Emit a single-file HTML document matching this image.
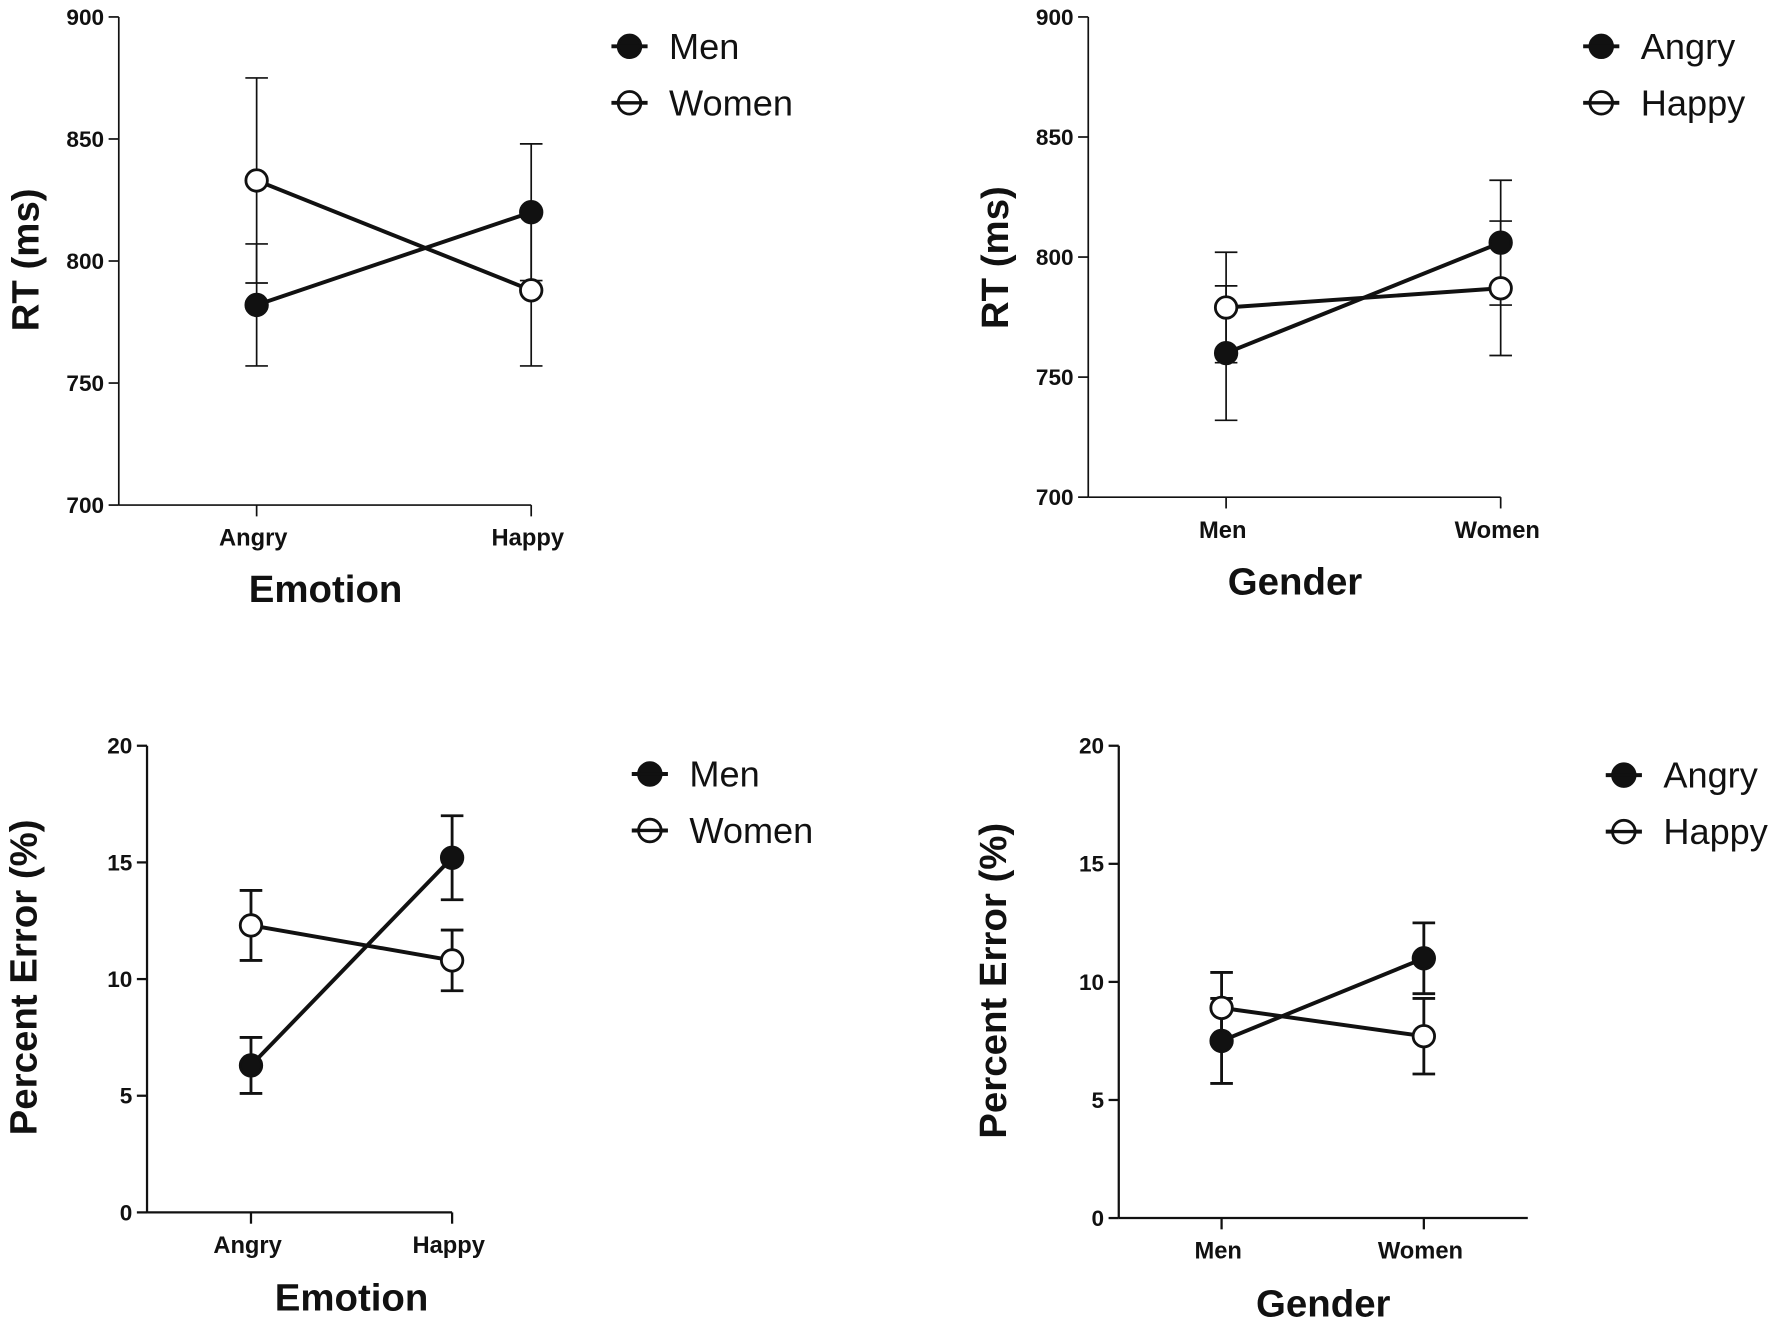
<!DOCTYPE html>
<html><head><meta charset="utf-8"><style>
html,body{margin:0;padding:0;background:#fff;}
svg{display:block;}
text{font-family:"Liberation Sans Narrow","Liberation Sans",sans-serif;font-weight:bold;fill:#111;}
.leg{font-family:"Liberation Sans Narrow","Liberation Sans",sans-serif;font-weight:normal;}
.title{font-family:"Liberation Sans",sans-serif;font-weight:bold;}
</style></head><body>
<svg id="fig" width="1772" height="1322" viewBox="0 0 1568 1170" xmlns="http://www.w3.org/2000/svg"></svg>
<script>
// Panel A: RT by Emotion
const catsA = ["Angry","Happy"];
const seriesA = ["Men","Women"];
const menRT = [782, 820];
const menRTErr = [25, 28];
const womenRT = [833, 788];
const womenRTErr = [42, 31];
const ticksRT = [700, 750, 800, 850, 900];
// Panel B: RT by Gender
const catsB = ["Men","Women"];
const seriesB = ["Angry","Happy"];
const angryRT = [760, 806];
const angryRTErr = [28, 26];
const happyRT = [779, 787];
const happyRTErr = [23, 28];
// Panel C: Percent error by Emotion
const menPE = [6.3, 15.2];
const menPEErr = [1.2, 1.8];
const womenPE = [12.3, 10.8];
const womenPEErr = [1.5, 1.3];
const ticksPE = [0, 5, 10, 15, 20];
// Panel D: Percent error by Gender
const angryPE = [7.5, 11.0];
const angryPEErr = [1.8, 1.5];
const happyPE = [8.9, 7.7];
const happyPEErr = [1.5, 1.6];

const NS = "http://www.w3.org/2000/svg";
const svg = document.getElementById('fig');
function el(tag, attrs, parent, txt){
  const e = document.createElementNS(NS, tag);
  for (const k in attrs) e.setAttribute(k, attrs[k]);
  if (txt !== undefined) e.textContent = txt;
  (parent || svg).appendChild(e);
  return e;
}

function panel(p){
  const g = el('g', {});
  
  
  const y = v => p.y0 + (v - p.ticks[0]) / (p.ticks[p.ticks.length-1] - p.ticks[0]) * (p.y1 - p.y0);
  const x = i => p.xs[i];
  // axes
  const ax = el('line', {x1:p.ax, y1:p.y1, x2:p.ax, y2:p.y0, stroke:'#111','stroke-width':p.aw}, g);
  
  
  const bx = el('line', {x1:p.ax, y1:p.y0, x2:p.xe, y2:p.y0, stroke:'#111','stroke-width':p.aw}, g);
  
  
  p.ticks.forEach(t => {
    el('line', {x1:p.ax-9, y1:y(t), x2:p.ax, y2:y(t), stroke:'#111','stroke-width':p.aw}, g);
    const tl = el('text', {x:p.ax-13, y:y(t)+7, 'text-anchor':'end','font-size':20}, g, String(t));
    
    
  });
  p.cats.forEach((c,i) => {
    el('line', {x1:x(i), y1:p.y0, x2:x(i), y2:p.y0+10, stroke:'#111','stroke-width':p.aw}, g);
    const cl = el('text', {x:x(i)-3, y:p.y0+36, 'text-anchor':'middle','font-size':21}, g, c);
    
    
  });
  const xt = el('text', {x:p.xtx, y:p.xty, 'text-anchor':'middle','font-size':34,'class':'title'}, g, p.xtitle);
  
  
  const yt = el('text', {x:0, y:0, 'text-anchor':'middle','font-size':34,'class':'title',transform:`translate(${p.ytx},${p.yty}) rotate(-90)`}, g, p.ytitle);
  
  
  // series
  p.series.forEach((s, si) => {
    const vals = p.vals[si], errs = p.errs[si];
    const sg = el('g', {}, g);
    
    
    vals.forEach((v,i) => {
      const eb = el('path', {d:`M${x(i)},${y(v-errs[i])}V${y(v+errs[i])}M${x(i)-10},${y(v+errs[i])}h20M${x(i)-10},${y(v-errs[i])}h20`, stroke:'#111','stroke-width':p.ew, fill:'none'}, sg);
      
      
    });
  });
  p.series.forEach((s, si) => {
    const vals = p.vals[si];
    const ln = el('polyline', {points: vals.map((v,i)=>`${x(i)},${y(v)}`).join(' '), stroke:'#111','stroke-width':3.5, fill:'none'}, g);
    
    
  });
  p.series.forEach((s, si) => {
    const vals = p.vals[si];
    vals.forEach((v,i) => {
      const m = el('circle', {cx:x(i), cy:y(v), r:9.5, fill: si===0?'#111':'#fff', stroke:'#111','stroke-width':2.5}, g);
      
      
    });
  });
  // legend
  p.series.forEach((s, si) => {
    const ly = p.ly + si*50;
    const lg = el('g', {}, g);
    
    
    el('line', {x1:p.lx-16, y1:ly, x2:p.lx+16, y2:ly, stroke:'#111','stroke-width':3.5}, lg);
    el('circle', {cx:p.lx, cy:ly, r:10, fill: si===0?'#111':'#fff', stroke:'#111','stroke-width':2.5}, lg);
    el('line', {x1:p.lx-10, y1:ly, x2:p.lx+10, y2:ly, stroke:'#111','stroke-width':3}, lg);
    el('text', {x:p.lx+35, y:ly+11, 'font-size':32,'class':'leg'}, lg, s);
  });
}

panel({name:'panel-rt-emotion', ax:105, xe:470, y0:447, y1:15, ticks:ticksRT, xs:[227,470], cats:catsA,
  series:seriesA, vals:[menRT, womenRT], errs:[menRTErr, womenRTErr], aw:1.5, ew:1.5,
  xtitle:'Emotion', xtx:288, xty:533, ytitle:'RT (ms)', ytx:34, yty:230, lx:557, ly:41});
panel({name:'panel-rt-gender', ax:963, xe:1328, y0:440, y1:15, ticks:ticksRT, xs:[1085,1328], cats:catsB,
  series:seriesB, vals:[angryRT, happyRT], errs:[angryRTErr, happyRTErr], aw:1.5, ew:1.5,
  xtitle:'Gender', xtx:1146, xty:526, ytitle:'RT (ms)', ytx:892, yty:228, lx:1417, ly:41});
panel({name:'panel-error-emotion', ax:130, xe:400, y0:1073, y1:660, ticks:ticksPE, xs:[222,400], cats:catsA,
  series:seriesA, vals:[menPE, womenPE], errs:[menPEErr, womenPEErr], aw:2, ew:2.5,
  xtitle:'Emotion', xtx:311, xty:1160, ytitle:'Percent Error (%)', ytx:32, yty:865, lx:575, ly:685});
panel({name:'panel-error-gender', ax:990, xe:1352, y0:1078, y1:660, ticks:ticksPE, xs:[1081,1260], cats:catsB,
  series:seriesB, vals:[angryPE, happyPE], errs:[angryPEErr, happyPEErr], aw:2, ew:2.5,
  xtitle:'Gender', xtx:1171, xty:1165, ytitle:'Percent Error (%)', ytx:890, yty:868, lx:1437, ly:686});
</script>
</body></html>
